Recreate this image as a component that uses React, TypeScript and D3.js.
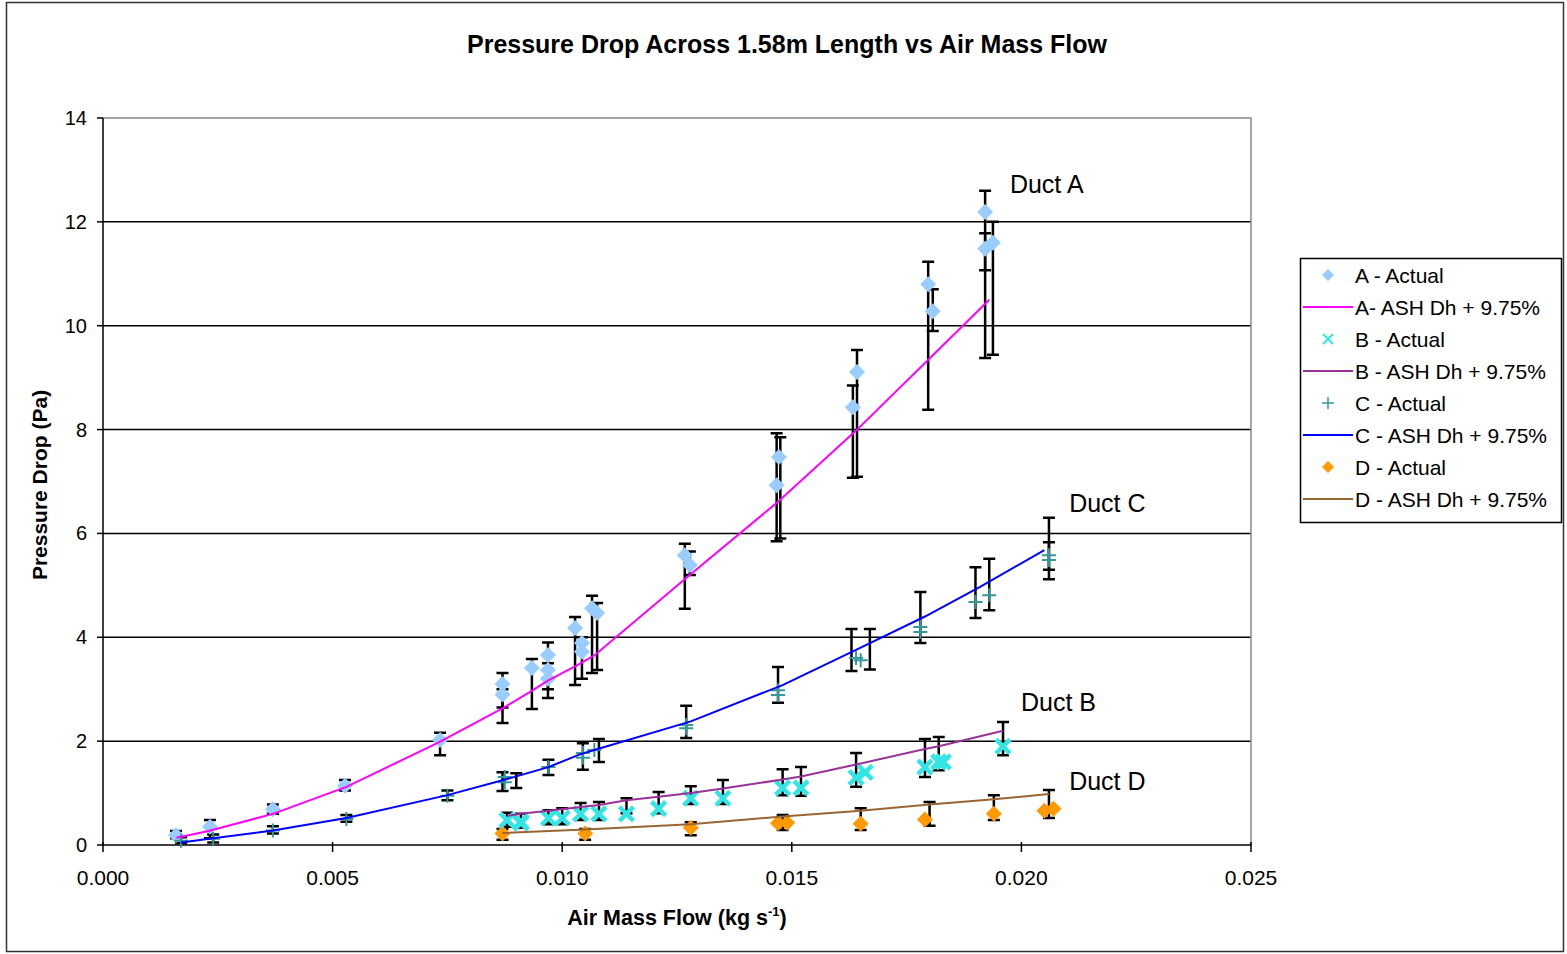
import React, { useRef, useEffect } from 'react';
import { select, scaleLinear, line } from 'd3';

const W = 1567;
const H = 954;

// ---- data ----
const xTicks = [0, 0.005, 0.01, 0.015, 0.02, 0.025];
const yTicks = [0, 2, 4, 6, 8, 10, 12, 14];

// Duct A
const aActual = [
  [0.00159, 0.19], [0.00233, 0.35], [0.0037, 0.69], [0.00527, 1.14], [0.00734, 2.02],
  [0.0087, 3.1], [0.0087, 2.9], [0.00934, 3.41], [0.00969, 3.66], [0.00969, 3.37],
  [0.00969, 3.2], [0.01028, 4.18], [0.01043, 3.89], [0.01043, 3.72], [0.01065, 4.56],
  [0.01076, 4.47], [0.01267, 5.58], [0.01278, 5.39], [0.01472, 7.47], [0.01467, 6.93],
  [0.01642, 9.11], [0.01633, 8.43], [0.01797, 10.8], [0.01807, 10.28], [0.01921, 12.19],
  [0.01921, 11.48], [0.01938, 11.6],
];
const aModelX = [0.0016, 0.0023, 0.0037, 0.0053, 0.0073, 0.0087, 0.0093, 0.0097, 0.0103, 0.0107, 0.0127, 0.0147, 0.0164, 0.018, 0.0193];
const aModelY = [0.14, 0.27, 0.6, 1.12, 1.97, 2.63, 2.95, 3.17, 3.45, 3.65, 5.14, 6.61, 7.98, 9.37, 10.5];
const aErr = [
  [0.00159, 0.13, 0.27], [0.00233, 0.13, 0.48], [0.0037, 0.6, 0.78], [0.00527, 1.05, 1.25],
  [0.00734, 1.73, 2.16], [0.0087, 2.35, 3.31], [0.0087, 2.65, 3.0], [0.00934, 2.62, 3.58],
  [0.00969, 2.83, 3.9], [0.00969, 3.0, 3.5], [0.01028, 3.08, 4.39], [0.01043, 3.2, 4.0],
  [0.01065, 3.31, 4.8], [0.01076, 3.37, 4.66], [0.01267, 4.55, 5.8], [0.01278, 5.2, 5.65],
  [0.01467, 5.85, 7.93], [0.01475, 5.9, 7.85], [0.01633, 7.07, 8.85], [0.01642, 7.09, 9.53],
  [0.01797, 8.38, 11.23], [0.01807, 9.9, 10.7], [0.01921, 9.38, 12.6], [0.01938, 9.44, 12.0],
  [0.01921, 11.07, 11.78],
];

// Duct B
const bActual = [
  [0.0088, 0.48], [0.0091, 0.45], [0.0091, 0.42], [0.0097, 0.52], [0.01, 0.52],
  [0.0104, 0.6], [0.0108, 0.6], [0.0114, 0.6], [0.0121, 0.7], [0.0128, 0.9],
  [0.0135, 0.9], [0.0148, 1.1], [0.0152, 1.1], [0.0164, 1.3], [0.0166, 1.4],
  [0.0179, 1.5], [0.0182, 1.6], [0.0183, 1.6], [0.0196, 1.9],
];
const bModelX = [0.0088, 0.0091, 0.0097, 0.0104, 0.0108, 0.0114, 0.0121, 0.0128, 0.0135, 0.0148, 0.0152, 0.0165, 0.0179, 0.0182, 0.0196];
const bModelY = [0.56, 0.6, 0.66, 0.73, 0.77, 0.86, 0.93, 1.0, 1.09, 1.26, 1.32, 1.57, 1.85, 1.9, 2.2];
const bErr = [
  [0.0088, 0.35, 0.62], [0.0091, 0.33, 0.6], [0.0097, 0.4, 0.67], [0.01, 0.4, 0.71],
  [0.0104, 0.48, 0.81], [0.0108, 0.48, 0.83], [0.0114, 0.61, 0.9], [0.0121, 0.61, 1.02],
  [0.0128, 0.79, 1.13], [0.0135, 0.79, 1.25], [0.0148, 0.96, 1.46], [0.0152, 0.95, 1.5],
  [0.0164, 1.12, 1.77], [0.0179, 1.31, 2.04], [0.0182, 1.44, 2.08], [0.0196, 1.73, 2.37],
];

// Duct C
const cActual = [
  [0.0017, 0.08], [0.0024, 0.12], [0.0037, 0.28], [0.0053, 0.5], [0.0075, 0.95],
  [0.00875, 1.31], [0.00875, 1.21], [0.0097, 1.5], [0.01045, 1.77], [0.01045, 1.68],
  [0.0107, 1.83], [0.0127, 2.31], [0.0127, 2.25], [0.0147, 2.98], [0.0147, 2.89],
  [0.0164, 3.6], [0.0165, 3.56], [0.0178, 4.2], [0.0178, 4.1], [0.0190, 4.68],
  [0.0193, 4.81], [0.0206, 5.58], [0.0206, 5.49],
];
const cModelX = [0.0017, 0.0024, 0.0037, 0.0053, 0.0075, 0.0088, 0.0097, 0.0104, 0.0107, 0.0128, 0.0148, 0.0165, 0.0179, 0.0191, 0.0205];
const cModelY = [0.05, 0.13, 0.28, 0.52, 0.96, 1.27, 1.5, 1.75, 1.83, 2.38, 3.08, 3.8, 4.4, 4.97, 5.68];
const cErr = [
  [0.0017, 0.04, 0.15], [0.0024, 0.05, 0.2], [0.0037, 0.22, 0.36], [0.0053, 0.45, 0.58],
  [0.0075, 0.86, 1.05], [0.0087, 1.04, 1.4], [0.009, 1.1, 1.38], [0.0097, 1.35, 1.64],
  [0.01045, 1.45, 1.96], [0.0108, 1.6, 2.04], [0.0127, 2.06, 2.68], [0.0147, 2.74, 3.43],
  [0.0163, 3.35, 4.16], [0.0167, 3.38, 4.16], [0.0178, 3.89, 4.87], [0.0190, 4.37, 5.35],
  [0.0193, 4.52, 5.51], [0.0206, 5.12, 6.3], [0.0206, 5.3, 5.83],
];

// Duct D
const dActual = [
  [0.0087, 0.22], [0.0105, 0.22], [0.0128, 0.33], [0.0147, 0.42], [0.0149, 0.43],
  [0.0165, 0.41], [0.0179, 0.49], [0.0194, 0.6], [0.0205, 0.66], [0.0207, 0.7],
];
const dModelX = [0.0087, 0.0105, 0.0128, 0.0148, 0.0165, 0.018, 0.0194, 0.0206];
const dModelY = [0.23, 0.3, 0.4, 0.55, 0.66, 0.78, 0.88, 0.98];
const dErr = [
  [0.0087, 0.1, 0.31], [0.0105, 0.1, 0.31], [0.0128, 0.19, 0.44], [0.0148, 0.29, 0.58],
  [0.0165, 0.29, 0.71], [0.018, 0.37, 0.83], [0.0194, 0.48, 0.96], [0.0206, 0.52, 1.06],
];

const colA = '#99ccff';
const colALine = '#ff00ff';
const colB = '#33e6e6';
const colBLine = '#993399';
const colC = '#339999';
const colCLine = '#0000ff';
const colD = '#ff9900';
const colDLine = '#996633';

const legendItems = [
  { label: 'A - Actual', kind: 'diamond', color: colA },
  { label: 'A- ASH Dh + 9.75%', kind: 'line', color: colALine },
  { label: 'B - Actual', kind: 'x', color: colB },
  { label: 'B - ASH Dh + 9.75%', kind: 'line', color: colBLine },
  { label: 'C - Actual', kind: 'plus', color: colC },
  { label: 'C - ASH Dh + 9.75%', kind: 'line', color: colCLine },
  { label: 'D - Actual', kind: 'diamond', color: colD },
  { label: 'D - ASH Dh + 9.75%', kind: 'line', color: colDLine },
];

const labels = [
  { text: 'Duct A', x: 0.01975, y: 12.55 },
  { text: 'Duct C', x: 0.02104, y: 6.41 },
  { text: 'Duct B', x: 0.01999, y: 2.58 },
  { text: 'Duct D', x: 0.02104, y: 1.06 },
];

const FONT = '"Liberation Sans", Arial, sans-serif';

const App = () => {
  const svgRef = useRef<SVGSVGElement>(null);

  useEffect(() => {
    const svg = select(svgRef.current);
    svg.selectAll('*').remove();

    const x = scaleLinear().domain([0, 0.025]).range([103, 1251]);
    const y = scaleLinear().domain([0, 14]).range([845, 118]);

    // outer frame
    svg.append('rect')
      .attr('x', 6.5).attr('y', 2.5).attr('width', 1557).attr('height', 949)
      .attr('fill', 'white').attr('stroke', '#333').attr('stroke-width', 1.5);

    // title
    svg.append('text')
      .attr('x', 787).attr('y', 53)
      .attr('text-anchor', 'middle')
      .attr('font-family', FONT).attr('font-weight', 'bold').attr('font-size', 25)
      .text('Pressure Drop Across 1.58m Length vs Air Mass Flow');

    // gridlines
    svg.append('g').selectAll('line')
      .data(yTicks.filter(t => t > 0 && t < 14))
      .join('line')
      .attr('x1', x(0)).attr('x2', x(0.025))
      .attr('y1', d => y(d)).attr('y2', d => y(d))
      .attr('stroke', '#000').attr('stroke-width', 1.5);

    // plot border top / right
    svg.append('path')
      .attr('d', `M${x(0)},${y(14)}H${x(0.025)}V${y(0)}`)
      .attr('fill', 'none').attr('stroke', '#888').attr('stroke-width', 1.5);

    // axes
    svg.append('line')
      .attr('x1', x(0)).attr('x2', x(0)).attr('y1', y(14)).attr('y2', y(0))
      .attr('stroke', '#000').attr('stroke-width', 1.5);
    svg.append('line')
      .attr('x1', x(0)).attr('x2', x(0.025)).attr('y1', y(0)).attr('y2', y(0))
      .attr('stroke', '#000').attr('stroke-width', 1.5);

    const yt = svg.append('g');
    yt.selectAll('line').data(yTicks).join('line')
      .attr('x1', x(0) - 6).attr('x2', x(0))
      .attr('y1', d => y(d)).attr('y2', d => y(d))
      .attr('stroke', '#000').attr('stroke-width', 1.5);
    yt.selectAll('text').data(yTicks).join('text')
      .attr('x', x(0) - 16).attr('y', d => y(d) + 7)
      .attr('text-anchor', 'end')
      .attr('font-family', FONT).attr('font-size', 20)
      .text(d => d);

    const xt = svg.append('g');
    xt.selectAll('line').data(xTicks).join('line')
      .attr('x1', d => x(d)).attr('x2', d => x(d))
      .attr('y1', y(0) - 3).attr('y2', y(0) + 7)
      .attr('stroke', '#000').attr('stroke-width', 1.5);
    xt.selectAll('text').data(xTicks).join('text')
      .attr('x', d => x(d)).attr('y', 885)
      .attr('text-anchor', 'middle')
      .attr('font-family', FONT).attr('font-size', 21)
      .text(d => d.toFixed(3));

    // axis titles
    const xl = svg.append('text')
      .attr('x', 677).attr('y', 925)
      .attr('text-anchor', 'middle')
      .attr('font-family', FONT).attr('font-weight', 'bold').attr('font-size', 21.5);
    xl.append('tspan').text('Air Mass Flow (kg s');
    xl.append('tspan').attr('dy', -9).attr('font-size', 13).text('-1');
    xl.append('tspan').attr('dy', 9).text(')');

    svg.append('text')
      .attr('transform', `translate(47,${485}) rotate(-90)`)
      .attr('text-anchor', 'middle')
      .attr('font-family', FONT).attr('font-weight', 'bold').attr('font-size', 21)
      .text('Pressure Drop (Pa)');

    // error bars
    const drawErr = (rows: number[][]) => {
      const g = svg.append('g').attr('stroke', '#000').attr('stroke-width', 2.5).attr('fill', 'none');
      g.selectAll('path').data(rows).join('path')
        .attr('d', d => {
          const px = x(d[0]);
          const lo = y(d[1]);
          const hi = y(d[2]);
          return `M${px},${lo}V${hi}M${px - 6},${lo}H${px + 6}M${px - 6},${hi}H${px + 6}`;
        });
    };
    [aErr, bErr, cErr, dErr].forEach(drawErr);

    // markers
    const diamond = (r: number) => `M0,${-r}L${r},0L0,${r}L${-r},0Z`;
    const drawDiamonds = (rows: number[][], color: string) => {
      svg.append('g').selectAll('path').data(rows).join('path')
        .attr('transform', d => `translate(${x(d[0])},${y(d[1])})`)
        .attr('d', diamond(8))
        .attr('fill', color);
    };
    drawDiamonds(aActual, colA);
    drawDiamonds(dActual, colD);

    svg.append('g').selectAll('path').data(bActual).join('path')
      .attr('transform', d => `translate(${x(d[0])},${y(d[1])})`)
      .attr('d', 'M-7,-7L7,7M7,-7L-7,7')
      .attr('stroke', colB).attr('stroke-width', 4.5).attr('fill', 'none');

    svg.append('g').selectAll('path').data(cActual).join('path')
      .attr('transform', d => `translate(${x(d[0])},${y(d[1])})`)
      .attr('d', 'M-7,0H7M0,-7V7')
      .attr('stroke', colC).attr('stroke-width', 2).attr('fill', 'none');

    // model lines
    const lineGen = line<number>();
    const drawLine = (xs: number[], vs: number[], color: string) => {
      const pts = xs.map((v, i) => [x(v), y(vs[i])] as [number, number]);
      svg.append('path')
        .attr('d', lineGen(pts as any))
        .attr('fill', 'none').attr('stroke', color).attr('stroke-width', 2);
    };
    drawLine(aModelX, aModelY, colALine);
    drawLine(bModelX, bModelY, colBLine);
    drawLine(cModelX, cModelY, colCLine);
    drawLine(dModelX, dModelY, colDLine);

    // duct labels
    svg.append('g').selectAll('text').data(labels).join('text')
      .attr('x', d => x(d.x)).attr('y', d => y(d.y))
      .attr('font-family', FONT).attr('font-size', 25)
      .text(d => d.text);

    // legend
    const lg = svg.append('g').attr('transform', 'translate(1300,258)');
    lg.append('rect')
      .attr('x', 0.5).attr('y', 0.5).attr('width', 261).attr('height', 264)
      .attr('fill', 'white').attr('stroke', '#000').attr('stroke-width', 1.5);
    const items = lg.selectAll('g').data(legendItems).join('g')
      .attr('transform', (_d, i) => `translate(0,${17 + i * 32})`);
    items.each(function (d) {
      const g = select(this);
      if (d.kind === 'line') {
        g.append('line').attr('x1', 3).attr('x2', 53).attr('y1', 0).attr('y2', 0)
          .attr('stroke', d.color).attr('stroke-width', 2);
      } else if (d.kind === 'diamond') {
        g.append('path').attr('transform', 'translate(28,0)').attr('d', diamond(6)).attr('fill', d.color);
      } else if (d.kind === 'x') {
        g.append('path').attr('transform', 'translate(28,0)').attr('d', 'M-5,-5L5,5M5,-5L-5,5')
          .attr('stroke', d.color).attr('stroke-width', 2);
      } else {
        g.append('path').attr('transform', 'translate(28,0)').attr('d', 'M-6,0H6M0,-6V6')
          .attr('stroke', d.color).attr('stroke-width', 1.5);
      }
      g.append('text').attr('x', 55).attr('y', 7.5)
        .attr('font-family', FONT).attr('font-size', 21)
        .text(d.label);
    });
  }, []);

  return (
    <div style={{ position: 'absolute', left: 0, top: 0 }}>
      <svg ref={svgRef} width={W} height={H} style={{ display: 'block', background: 'white' }} />
    </div>
  );
};

export default App;
